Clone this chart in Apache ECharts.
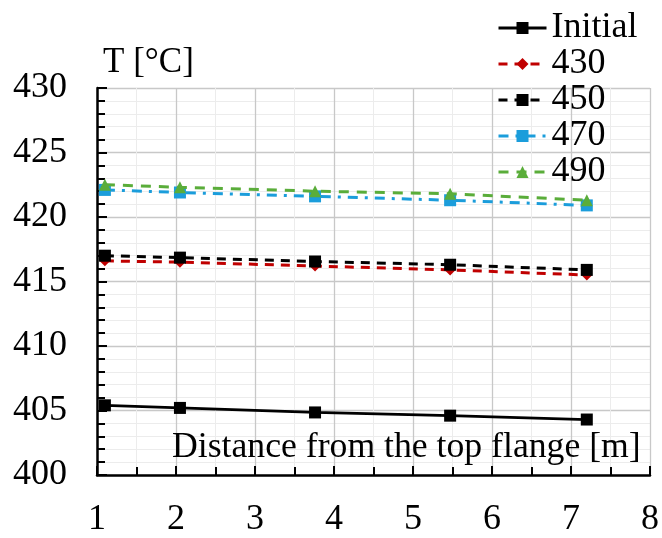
<!DOCTYPE html>
<html><head><meta charset="utf-8">
<script src="https://cdn.jsdelivr.net/npm/echarts@6/dist/echarts.min.js"></script>
<style>html,body{margin:0;padding:0;background:#fff}#c{width:662px;height:538px}</style>
</head><body><div id="c"></div>
<script>
// Data
const distances = [1.1, 2.05, 3.76, 5.47, 7.2];
const seriesNames = ['Initial', '430', '450', '470', '490'];
const tInitial = [405.4, 405.2, 404.85, 404.6, 404.3];
const t430 = [416.6, 416.5, 416.2, 415.9, 415.5];
const t450 = [417.0, 416.85, 416.55, 416.3, 415.9];
const t470 = [422.1, 421.9, 421.6, 421.3, 420.9];
const t490 = [422.5, 422.3, 422.0, 421.8, 421.3];
const xTickLabels = [1, 2, 3, 4, 5, 6, 7, 8];
const yTickLabels = [400, 405, 410, 415, 420, 425, 430];
const yTitle = 'T [°C]';
const xTitle = 'Distance from the top flange [m]';

const FONT = "'Liberation Serif', 'Times New Roman', serif";
const pairs = vals => distances.map((d, i) => [d, vals[i]]);

const styles = [
  {color: '#000000', type: 'solid', symbol: 'rect', size: 12, width: 2.8},
  {color: '#c00000', type: [9, 7], symbol: 'diamond', size: 11, width: 3},
  {color: '#000000', type: [9, 7], symbol: 'rect', size: 12, width: 3},
  {color: '#1b9ddb', type: [10, 7, 3, 7], symbol: 'rect', size: 12, width: 3},
  {color: '#5aad3a', type: [10, 8], symbol: 'triangle', size: 12, width: 3}
];
const valueSets = [tInitial, t430, t450, t470, t490];

const chart = echarts.init(document.getElementById('c'), null, {renderer: 'canvas'});
chart.setOption({
  animation: false,
  backgroundColor: '#ffffff',
  textStyle: {fontFamily: FONT},
  title: [
    {text: yTitle, left: 103, top: 45, padding: 0, textStyle: {fontFamily: FONT, fontSize: 35, fontWeight: 'normal', color: '#000'}},
    {text: xTitle, left: 172, top: 430, padding: 0, textStyle: {fontFamily: FONT, fontSize: 35.7, fontWeight: 'normal', color: '#000'}}
  ],
  legend: {
    orient: 'vertical',
    left: 492,
    top: 5,
    itemWidth: 48,
    itemHeight: 15,
    itemGap: 0,
    lineStyle: {width: 3},
    textStyle: {fontFamily: FONT, fontSize: 36, color: '#000', lineHeight: 36},
    data: seriesNames
  },
  grid: {left: 97, top: 88, width: 557, height: 394, containLabel: false},
  xAxis: {
    type: 'value',
    min: xTickLabels[0], max: xTickLabels[xTickLabels.length - 1], interval: 1,
    axisLine: {lineStyle: {color: '#000', width: 2.5}},
    axisTick: {inside: true, length: 9, lineStyle: {color: '#000', width: 2}},
    minorTick: {show: true, splitNumber: 2, length: 8, lineStyle: {color: '#000', width: 2}},
    axisLabel: {fontFamily: FONT, fontSize: 36, color: '#000', margin: 27},
    splitLine: {show: true, lineStyle: {color: '#c8c8c8', width: 1.3}},
    minorSplitLine: {show: true, lineStyle: {color: '#ececec', width: 1}}
  },
  yAxis: {
    type: 'value',
    min: yTickLabels[0], max: yTickLabels[yTickLabels.length - 1], interval: 5,
    axisLine: {show: true, lineStyle: {color: '#000', width: 2.5}},
    axisTick: {show: true, inside: true, length: 10, lineStyle: {color: '#000', width: 2}},
    minorTick: {show: true, splitNumber: 5, length: 8, lineStyle: {color: '#000', width: 2}},
    axisLabel: {fontFamily: FONT, fontSize: 36, color: '#000', margin: 30},
    splitLine: {show: true, lineStyle: {color: '#c8c8c8', width: 1.3}},
    minorSplitLine: {show: true, lineStyle: {color: '#ececec', width: 1}}
  },
  series: seriesNames.map((name, i) => ({
    name: name,
    type: 'line',
    data: pairs(valueSets[i]),
    symbol: styles[i].symbol,
    symbolSize: styles[i].size,
    showAllSymbol: true,
    color: styles[i].color,
    itemStyle: {color: styles[i].color},
    lineStyle: {color: styles[i].color, width: styles[i].width, type: styles[i].type},
    z: 2 + i
  }))
});
</script>
</body></html>
